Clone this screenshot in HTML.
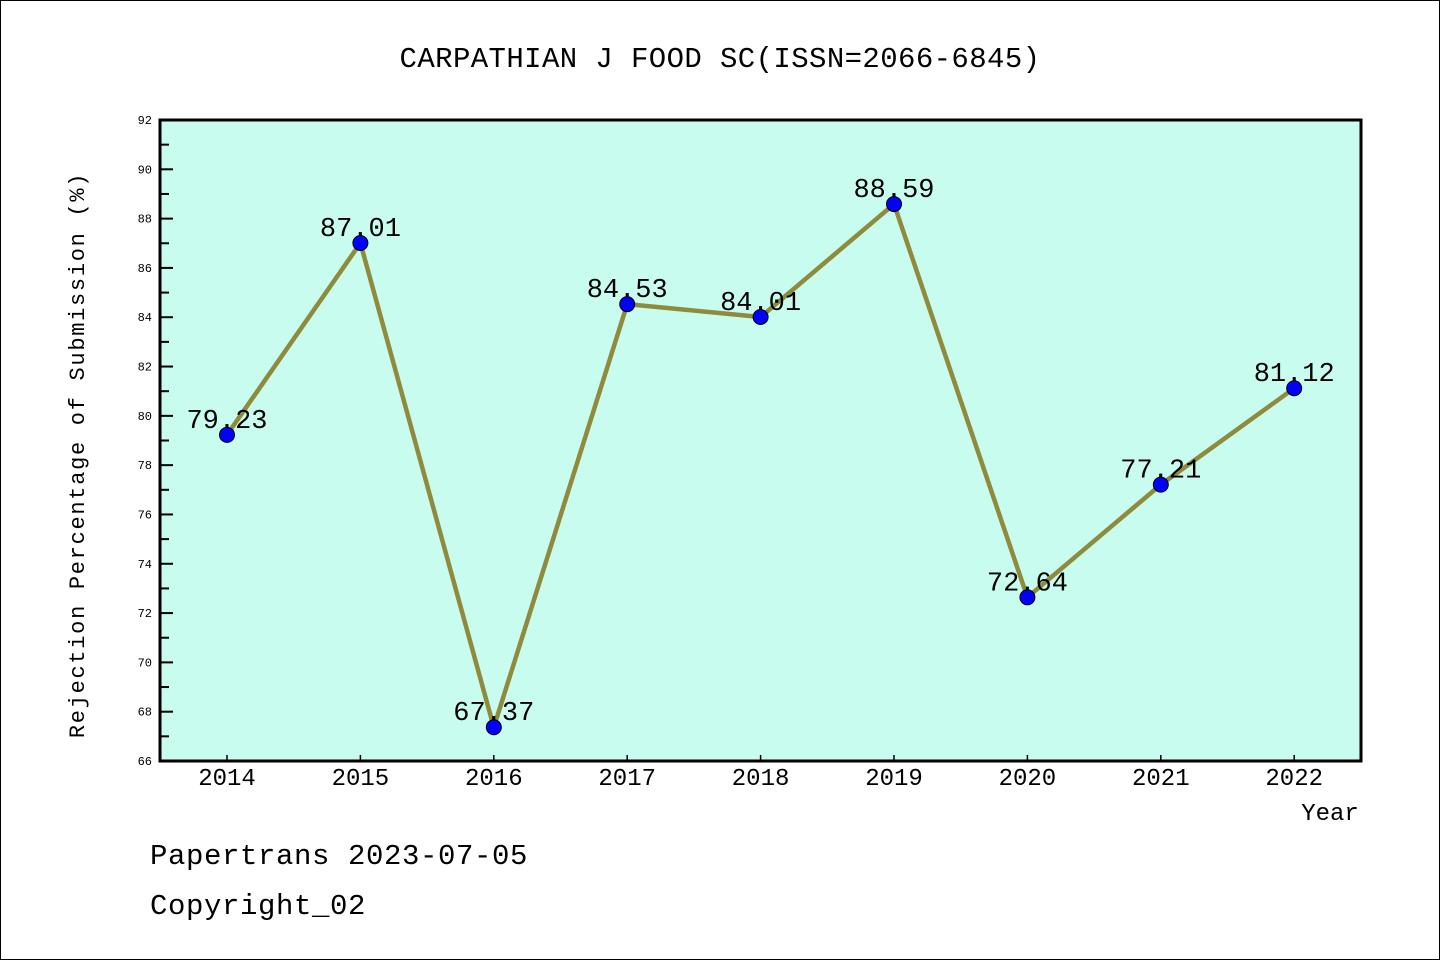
<!DOCTYPE html>
<html><head><meta charset="utf-8">
<style>
html,body{margin:0;padding:0;background:#fff;}
svg{display:block;font-family:"WenQuanYi Zen Hei Mono","WenQuanYi Zen Hei","Liberation Mono",monospace;}
</style></head>
<body>
<svg id="chart" width="1440" height="960" viewBox="0 0 1440 960">
<rect x="0.5" y="0.5" width="1439" height="959" fill="#fff" stroke="#000" stroke-width="1"/>
<text x="720" y="67" font-size="29" letter-spacing="0.4" text-anchor="middle">CARPATHIAN J FOOD SC(ISSN=2066-6845)</text>
<rect x="160" y="120" width="1201" height="641" fill="#c8fcee"/>
<g id="ticks"></g>
<g id="series"></g>
<rect x="160" y="120" width="1201" height="641" fill="none" stroke="#000" stroke-width="3"/>
<text x="84" y="455" font-size="22" letter-spacing="1.7" text-anchor="middle" transform="rotate(-90 84 455)">Rejection Percentage of Submission (%)</text>
<text x="1330" y="820" font-size="24" text-anchor="middle">Year</text>
<text x="150" y="864" font-size="29" letter-spacing="0.6">Papertrans 2023-07-05</text>
<text x="150" y="914" font-size="29" letter-spacing="0.6">Copyright_02</text>
</svg>
<script>
const years = ["2014","2015","2016","2017","2018","2019","2020","2021","2022"];
const values = [79.23, 87.01, 67.37, 84.53, 84.01, 88.59, 72.64, 77.21, 81.12];
const labels = ["79.23","87.01","67.37","84.53","84.01","88.59","72.64","77.21","81.12"];
const yTicks = [66,68,70,72,74,76,78,80,82,84,86,88,90,92];

const NS="http://www.w3.org/2000/svg";
const Y0=66,Y1=92,plotTop=120,plotBot=761;
const yS=v=>plotBot-(v-Y0)/(Y1-Y0)*(plotBot-plotTop);
const xS=i=>227+i*133.4;
function mk(tag,attrs,parent){const e=document.createElementNS(NS,tag);for(const k in attrs)e.setAttribute(k,attrs[k]);parent.appendChild(e);return e;}
const tg=document.getElementById('ticks'), sg=document.getElementById('series');
yTicks.forEach((t,k)=>{
  const l=mk('line',{x1:160,x2:173,y1:yS(t),y2:yS(t),stroke:'#000','stroke-width':2},tg);
  
  
  const tx=mk('text',{x:152,y:yS(t)+4,'font-size':12,'text-anchor':'end'},tg);
  tx.textContent=t;
  
  
  if(k<yTicks.length-1){
    const m=mk('line',{x1:160,x2:169,y1:yS(t+1),y2:yS(t+1),stroke:'#000','stroke-width':2},tg);
    
    
  }
});
years.forEach((yr,i)=>{
  const l=mk('line',{x1:xS(i),x2:xS(i),y1:plotBot,y2:plotBot-6,stroke:'#000','stroke-width':1.5},tg);
  
  
  const tx=mk('text',{x:xS(i),y:785,'font-size':24,'text-anchor':'middle'},tg);
  tx.textContent=yr;
  
  
});
const line=mk('polyline',{points:values.map((v,i)=>xS(i)+','+yS(v)).join(' '),fill:'none',stroke:'#8f8a3c','stroke-width':4.5,'stroke-linejoin':'round'},sg);


values.forEach((v,i)=>{
  const c=mk('circle',{cx:xS(i),cy:yS(v),r:7.5,fill:'#0000ff',stroke:'#000','stroke-width':1},sg);
  
  
  const t=mk('text',{x:xS(i),y:yS(v)-7,'font-size':27,'text-anchor':'middle'},sg);
  t.textContent=labels[i];
  
  
});
</script>
</body></html>
